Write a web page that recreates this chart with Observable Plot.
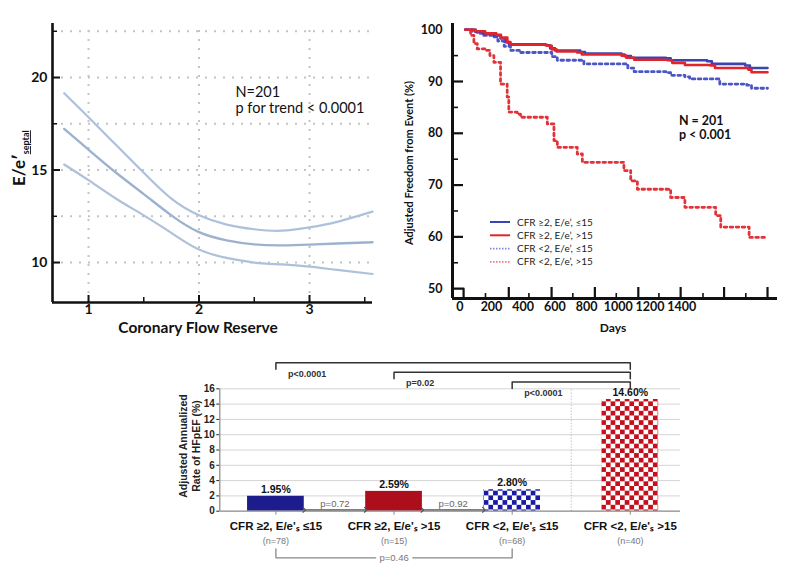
<!DOCTYPE html>
<html><head><meta charset="utf-8">
<script src="https://cdn.jsdelivr.net/npm/d3@7"></script>
<script src="https://cdn.jsdelivr.net/npm/@observablehq/plot@0.6"></script>
<style>
html,body{margin:0;padding:0;background:#fff}
#wrap{position:relative;width:800px;height:569px;overflow:hidden;background:#fff}
#wrap > div{position:absolute}
</style></head><body>
<div id="wrap"><div id="pa" style="left:0;top:0"></div><div id="pb" style="left:400px;top:0"></div><div id="pc" style="left:150px;top:345px"></div></div>
<script>
// ================= DATA =================
// Panel A: E/e' septal vs coronary flow reserve (spline fit with 95% CI)
const cfrValues = [0.78, 1.0, 1.25, 1.5, 1.75, 2.0, 2.25, 2.5, 2.75, 3.0, 3.25, 3.57];
const upperCI   = [19.15, 17.85, 16.35, 14.85, 13.45, 12.55, 12.05, 11.8, 11.72, 11.9, 12.2, 12.75];
const fitted    = [17.22, 16.1, 14.85, 13.7, 12.55, 11.64, 11.2, 10.98, 10.93, 10.97, 11.03, 11.1];
const lowerCI   = [15.3, 14.45, 13.45, 12.55, 11.6, 10.7, 10.25, 10.0, 9.9, 9.78, 9.6, 9.38];
const xTicksA = [1, 2, 3];
const xMinorA = [1.5, 2.5, 3.5];
const yTicksA = [10, 15, 20];
const yMinorA = [12.5, 17.5, 22.5];
const annotA = ["N=201", "p for trend < 0.0001"];

// Panel B: adjusted freedom from event (days, %)
const kmSeriesNames = ["CFR ≥2, E/e’, ≤15", "CFR ≥2, E/e’, >15", "CFR <2, E/e’, ≤15", "CFR <2, E/e’, >15"];
const survCfrHighEeLow = [[36,100],[100,99.6],[150,99.2],[215,98.9],[257,98.3],[290,97.6],[310,97.2],[540,97.0],[570,96.4],[600,96.0],[760,95.7],[790,95.4],[1020,95.2],[1040,94.9],[1080,94.6],[1300,94.5],[1330,94.1],[1560,93.9],[1590,93.4],[1800,93.1],[1830,92.6],[1941,92.6]];
const survCfrHighEeHigh = [[36,100],[100,99.7],[160,99.3],[230,99.0],[260,98.5],[300,97.6],[320,97.1],[550,96.9],[580,96.2],[610,95.8],[740,95.6],[770,95.2],[1020,95.0],[1050,94.6],[1100,94.2],[1310,94.1],[1340,93.6],[1420,93.2],[1580,93.1],[1610,92.6],[1820,92.3],[1840,91.8],[1941,91.8]];
const survCfrLowEeLow = [[36,100],[80,99.6],[110,99.3],[150,98.9],[215,98.6],[240,97.8],[280,96.8],[320,96.0],[383,95.6],[552,95.6],[580,94.8],[615,94.1],[762,94.1],[783,93.4],[1025,93.4],[1060,92.6],[1100,91.9],[1300,91.7],[1330,91.2],[1420,90.9],[1450,90.5],[1610,90.5],[1640,89.5],[1810,89.3],[1840,88.7],[1941,88.7]];
const survCfrLowEeHigh = [[36,100],[68,98.9],[89,97.3],[110,96.3],[162,96.0],[190,95.0],[215,93.7],[257,89.5],[299,87.0],[309,84.1],[362,83.7],[383,83.1],[530,83.1],[552,81.8],[594,78.6],[615,77.3],[720,77.3],[741,76.0],[773,74.4],[1015,74.4],[1035,72.8],[1078,70.8],[1120,69.2],[1309,69.2],[1330,67.6],[1414,67.3],[1420,65.7],[1593,65.7],[1614,64.1],[1646,61.9],[1814,61.9],[1825,59.9],[1941,59.9]];
const yTicksB = [50, 60, 70, 80, 90, 100];
const yMajorTickB = [60, 70, 80, 90];
const yMinorTickB = [55, 65, 75, 85, 95];
const xLabelsB = [0, 200, 400, 600, 800, 1000, 1200, 1400];
const xMajorTickB = [309, 579, 852, 1126, 1393, 1667, 1941];
const xMinorTickB = [162, 436, 713, 987, 1256, 1534, 1804];
const annotB = ["N = 201", "p < 0.001"];

// Panel C: adjusted annualized rate of HFpEF (%)
const categoriesC = ["CFR ≥2, E/e'ₛ ≤15", "CFR ≥2, E/e'ₛ >15", "CFR <2, E/e'ₛ ≤15", "CFR <2, E/e'ₛ >15"];
const countsC = ["(n=78)", "(n=15)", "(n=68)", "(n=40)"];
const ratesC = [1.95, 2.59, 2.80, 14.60];
const yTicksC = [0, 2, 4, 6, 8, 10, 12, 14, 16];
const topTests = [{a:0, b:3, p:"p<0.0001"}, {a:1, b:3, p:"p=0.02"}, {a:2, b:3, p:"p<0.0001"}];
const adjacentTests = [{a:0, b:1, p:"p=0.72"}, {a:1, b:2, p:"p=0.92"}];
const bottomTests = [{a:0, b:2, p:"p=0.46"}];

// ================= PANEL A =================
(function(){
  const W=390,H=345,ml=52,mr=18,mt=23,mb=43;
  const xd=[0.674,3.57], yd=[7.84,22.92];
  const ux=(xd[1]-xd[0])/(W-ml-mr), uy=(yd[1]-yd[0])/(H-mt-mb);
  const rows=[];
  cfrValues.forEach((c,i)=>{
    rows.push({cfr:c,v:upperCI[i],s:"upper"},{cfr:c,v:fitted[i],s:"fit"},{cfr:c,v:lowerCI[i],s:"lower"});
  });
  const grid={stroke:"#c4c4c4",strokeWidth:2,strokeDasharray:"2,7"};
  const svg=Plot.plot({
    width:W,height:H,marginLeft:ml,marginRight:mr,marginTop:mt,marginBottom:mb,
    style:{fontFamily:"Lato, sans-serif",fontSize:"14px",fontWeight:"bold",color:"#111",background:"transparent",overflow:"visible"},
    x:{domain:xd,ticks:xTicksA,tickSize:0,tickPadding:2,label:null,tickFormat:d=>d},
    y:{domain:yd,ticks:yTicksA,tickSize:0,tickPadding:5,label:null,tickFormat:d=>d},
    marks:[
      Plot.ruleY([...yTicksA,...yMinorA],{y:d=>d,x1:xd[0],x2:xd[1],...grid}),
      Plot.ruleX(xTicksA,{x:d=>d,y1:yd[0],y2:yd[1],...grid}),
      Plot.line(rows.filter(r=>r.s!=="fit"),{x:"cfr",y:"v",z:"s",stroke:"#aec1da",strokeWidth:2.2,curve:"natural"}),
      Plot.line(rows.filter(r=>r.s==="fit"),{x:"cfr",y:"v",stroke:"#9cb2cf",strokeWidth:2.4,curve:"natural"}),
      Plot.ruleY(yTicksA,{y:d=>d,x1:xd[0],x2:xd[0]+8*ux,stroke:"#111",strokeWidth:2}),
      Plot.ruleY(yMinorA,{y:d=>d,x1:xd[0],x2:xd[0]+5*ux,stroke:"#111",strokeWidth:1.5}),
      Plot.ruleX(xTicksA,{x:d=>d,y1:yd[0],y2:yd[0]+7*uy,stroke:"#111",strokeWidth:2}),
      Plot.ruleX(xMinorA,{x:d=>d,y1:yd[0],y2:yd[0]+5*uy,stroke:"#111",strokeWidth:1.5}),
      Plot.ruleX([xd[0]],{y1:yd[0],y2:yd[1],stroke:"#111",strokeWidth:2.6}),
      Plot.ruleY([yd[0]],{x1:xd[0],x2:xd[1],stroke:"#111",strokeWidth:2.6}),
      Plot.text(annotA,{x:2.33,y:(d,i)=>19.5-i*0.86,text:d=>d,textAnchor:"start",lineAnchor:"top",fontSize:14.5,fontWeight:"normal",fill:"#111"})
    ]
  });
  const s=d3.select(svg);
  const t=s.append("text").attr("transform","translate(25,186) rotate(-90)").attr("text-anchor","start")
    .attr("font-family","Lato, sans-serif").attr("font-weight","bold").attr("font-size",17).attr("fill","#111");
  t.append("tspan").text("E/e′");
  t.append("tspan").attr("font-size",9).attr("dy",4).attr("style","text-decoration: underline wavy #e03030").text("septal");
  s.append("text").attr("x",198).attr("y",333).attr("text-anchor","middle")
    .attr("font-family","Lato, sans-serif").attr("font-weight","bold").attr("font-size",15.5).attr("fill","#111")
    .text("Coronary Flow Reserve");
  document.getElementById("pa").appendChild(svg);
})();

// ================= PANEL B =================
(function(){
  const W=400,H=345,ml=52,mr=23,mt=23,mb=47;
  const xd=[-46,2004], yd=[48.1,101.2];
  const ux=(xd[1]-xd[0])/(W-ml-mr), uy=(yd[1]-yd[0])/(H-mt-mb);
  const series=[survCfrHighEeLow,survCfrHighEeHigh,survCfrLowEeLow,survCfrLowEeHigh];
  const styles=[
    {stroke:"#3a44b2",strokeWidth:2.6},
    {stroke:"#e3242b",strokeWidth:2.6},
    {stroke:"#4a55c8",strokeWidth:2.8,strokeDasharray:"2.6,3.4"},
    {stroke:"#e0343b",strokeWidth:2.8,strokeDasharray:"2.6,3.4"}
  ];
  const drawOrder=[2,3,0,1];
  const lines=drawOrder.map(k=>Plot.line(series[k],{x:d=>d[0],y:d=>d[1],curve:"step-after",...styles[k]}));
  const breakDay=24;
  const svg=Plot.plot({
    width:W,height:H,marginLeft:ml,marginRight:mr,marginTop:mt,marginBottom:mb,
    style:{fontFamily:"Lato, sans-serif",fontSize:"12.5px",fontWeight:"bold",color:"#111",background:"transparent",overflow:"visible"},
    x:{domain:xd,ticks:xLabelsB,tickSize:0,tickPadding:4,label:null,tickFormat:d=>String(d)},
    y:{domain:yd,ticks:yTicksB,tickSize:0,tickPadding:10,label:null,tickFormat:d=>String(d)},
    marks:[
      ...lines,
      Plot.ruleY(yMajorTickB,{y:d=>d,x1:xd[0],x2:xd[0]+11*ux,stroke:"#111",strokeWidth:2.2}),
      Plot.ruleY(yMinorTickB,{y:d=>d,x1:xd[0],x2:xd[0]+6*ux,stroke:"#111",strokeWidth:1.6}),
      Plot.ruleX(xMajorTickB,{x:d=>d,y1:yd[0],y2:yd[0]+11*uy,stroke:"#111",strokeWidth:2.2}),
      Plot.ruleX(xMinorTickB,{x:d=>d,y1:yd[0],y2:yd[0]+5*uy,stroke:"#111",strokeWidth:1.6}),
      Plot.line([[xd[0],50],[breakDay,50],[breakDay,yd[0]]],{x:d=>d[0],y:d=>d[1],stroke:"#111",strokeWidth:2.2}),
      Plot.ruleX([xd[0]],{y1:yd[0],y2:yd[1],stroke:"#111",strokeWidth:3}),
      Plot.ruleY([yd[0]],{x1:xd[0],x2:xd[1],stroke:"#111",strokeWidth:3}),
      Plot.text(annotB,{x:1382,y:(d,i)=>83.3-i*2.75,text:d=>d,textAnchor:"start",lineAnchor:"top",fontSize:12.5,fontWeight:"bold",fill:"#111"})
    ]
  });
  const s=d3.select(svg);
  s.append("text").attr("transform","translate(13,163) rotate(-90)").attr("text-anchor","middle")
    .attr("font-family","Lato, sans-serif").attr("font-weight","bold").attr("font-size",11).attr("fill","#111")
    .text("Adjusted Freedom from Event (%)");
  s.append("text").attr("x",213).attr("y",332).attr("text-anchor","middle")
    .attr("font-family","Lato, sans-serif").attr("font-weight","bold").attr("font-size",12).attr("fill","#111")
    .text("Days");
  const leg=s.append("g").attr("font-family","Lato, sans-serif").attr("font-size",10).attr("font-weight","normal").attr("fill","#222").attr("text-anchor","start");
  const legStyles=[
    {c:"#3a44b2",w:2,d:null},{c:"#e3242b",w:2,d:null},
    {c:"#8088d8",w:1.6,d:"1.5,1.5"},{c:"#ec7a7e",w:1.6,d:"1.5,1.5"}
  ];
  kmSeriesNames.forEach((n,i)=>{
    const y=222+i*13.3;
    const ln=leg.append("line").attr("x1",90).attr("x2",110).attr("y1",y).attr("y2",y)
      .attr("stroke",legStyles[i].c).attr("stroke-width",legStyles[i].w);
    if(legStyles[i].d) ln.attr("stroke-dasharray",legStyles[i].d);
    leg.append("text").attr("x",117).attr("y",y).attr("dy","0.35em").attr("text-anchor","start").text(n);
  });
  document.getElementById("pb").appendChild(svg);
})();

// ================= PANEL C =================
(function(){
  const W=545,H=224,ml=69.3,mr=15,mt=43.3,mb=58.3;
  const xd=[-0.475,3.425], yd=[0,16];
  const uy=(yd[1]-yd[0])/(H-mt-mb);
  const hw=0.24;
  const idx=categoriesC.map((_,i)=>i);
  const barFill=["#1c1c8c","#ad0e1b","url(#chkBlueC)","url(#chkRedC)"];
  const topLevel=k=>16.9+(topTests.length-1-k)*1.25, leg=0.85;
  const topRows=[];
  topTests.forEach((t,k)=>{
    const L=topLevel(k);
    topRows.push({x:t.a,y:L-leg,k},{x:t.a,y:L,k},{x:t.b,y:L,k},{x:t.b,y:L-leg,k});
  });
  const botLevel=-6.09, botLeg=1.17;
  const botRows=[];
  bottomTests.forEach((t,k)=>{
    botRows.push({x:t.a,y:botLevel+botLeg,k},{x:t.a,y:botLevel,k},{x:t.b,y:botLevel,k},{x:t.b,y:botLevel+botLeg,k});
  });
  const svg=Plot.plot({
    width:W,height:H,marginLeft:ml,marginRight:mr,marginTop:mt,marginBottom:mb,
    style:{fontFamily:"'Liberation Sans', Arial, sans-serif",fontSize:"10px",fontWeight:"bold",color:"#222",background:"transparent",overflow:"visible"},
    x:{domain:xd,axis:null},
    y:{domain:yd,ticks:yTicksC,tickSize:3,tickPadding:2,label:null},
    color:{type:"identity"},
    marks:[
      Plot.ruleY(yTicksC.filter(d=>d>0),{y:d=>d,stroke:"#d4d4d4",strokeWidth:1}),
      Plot.ruleX([2.5],{y1:0,y2:16,stroke:"#aaa",strokeDasharray:"1,2"}),
      Plot.rectY(idx,{x1:i=>i-hw,x2:i=>i+hw,y1:0,y2:i=>ratesC[i],fill:i=>barFill[i]}),
      Plot.ruleY([0],{stroke:"#888",strokeWidth:1.2}),
      Plot.ruleX([xd[0]],{y1:0,y2:16,stroke:"#888",strokeWidth:1.2}),
      Plot.ruleX(idx,{x:i=>i,y1:0,y2:-4*uy,stroke:"#888"}),
      Plot.text(idx,{x:i=>i,y:i=>ratesC[i],text:i=>ratesC[i].toFixed(2)+"%",dy:-7,fontSize:10.5,fontWeight:"bold",fill:"#111"}),
      Plot.line(topRows,{x:"x",y:"y",z:"k",stroke:"#333",strokeWidth:1.5}),
      Plot.text(topTests,{x:t=>t.a,y:(t,k)=>topLevel(k)-leg,text:"p",dx:12,dy:1,textAnchor:"start",lineAnchor:"top",fontSize:9,fontWeight:"bold",fill:"#333"}),
      Plot.link(adjacentTests,{x1:t=>t.a+hw,x2:t=>t.b-hw,y1:0.18,y2:0.18,stroke:"#555",strokeWidth:1.2,markerStart:"arrow",markerEnd:"arrow"}),
      Plot.text(adjacentTests,{x:t=>(t.a+t.b)/2,y:0.18,text:"p",dy:-5.5,fontSize:9.5,fontWeight:"normal",fill:"#666"}),
      Plot.line(botRows,{x:"x",y:"y",z:"k",stroke:"#888",strokeWidth:1.3}),
      Plot.text(bottomTests,{x:t=>(t.a+t.b)/2,y:botLevel,text:"p",fontSize:9.5,fontWeight:"normal",fill:"#777",stroke:"white",strokeWidth:8}),
      Plot.text(idx,{x:i=>i,y:0,text:i=>categoriesC[i],dy:15.5,fontSize:11.5,fontWeight:"bold",fill:"#111"}),
      Plot.text(idx,{x:i=>i,y:0,text:i=>countsC[i],dy:29.5,fontSize:9,fontWeight:"normal",fill:"#777"})
    ]
  });
  const s=d3.select(svg);
  const defs=s.insert("defs",":first-child");
  const checker=(id,color)=>{
    const c=4.7;
    const p=defs.append("pattern").attr("id",id).attr("patternUnits","userSpaceOnUse").attr("width",2*c).attr("height",2*c);
    p.append("rect").attr("width",2*c).attr("height",2*c).attr("fill","#fff");
    p.append("rect").attr("width",c).attr("height",c).attr("fill",color);
    p.append("rect").attr("x",c).attr("y",c).attr("width",c).attr("height",c).attr("fill",color);
  };
  checker("chkBlueC","#1a1aa8");
  checker("chkRedC","#c40f1c");
  const yt=s.append("text").attr("transform","translate(39,101) rotate(-90)").attr("text-anchor","middle")
    .attr("font-family","'Liberation Sans', Arial, sans-serif").attr("font-weight","bold").attr("font-size",10.5).attr("fill","#222");
  yt.append("tspan").attr("x",0).attr("dy","-0.2em").text("Adjusted Annualized");
  yt.append("tspan").attr("x",0).attr("dy","1.2em").text("Rate of HFpEF (%)");
  document.getElementById("pc").appendChild(svg);
})();
</script></body></html>
